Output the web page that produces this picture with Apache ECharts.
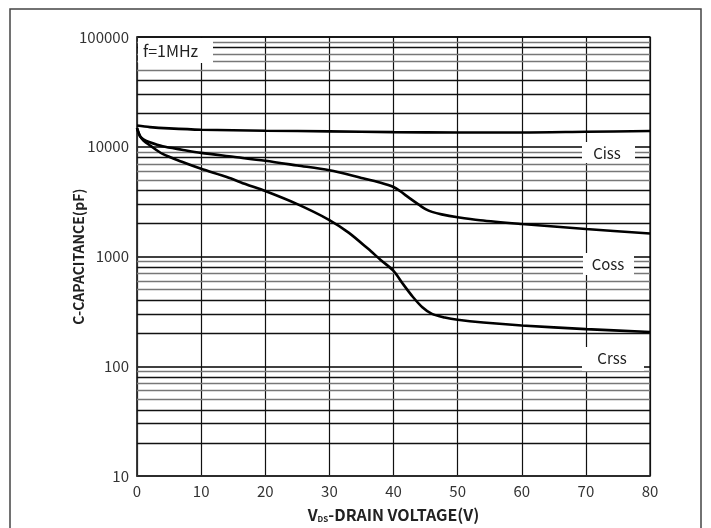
<!DOCTYPE html>
<html>
<head>
<meta charset="utf-8">
<script src="https://cdn.jsdelivr.net/npm/echarts@6/dist/echarts.min.js"></script>
<style>
  html, body { margin: 0; padding: 0; background: #fff; }
  #chart { width: 711px; height: 528px; }
</style>
</head>
<body>
<div id="chart"></div>
<script>
// capacitance vs drain voltage
var vCiss = [0, 2, 5, 10, 20, 30, 40, 50, 60, 70, 80];
var ciss = [15600, 15100, 14700, 14300, 14000, 13800, 13600, 13500, 13500, 13700, 13900];

var vCoss = [0, 0.5, 1, 2, 4, 7, 10, 15, 20, 25, 30, 35, 38, 40, 41, 42.5, 44, 45, 46, 47.5, 50, 53.5, 60, 70, 80];
var coss = [14800, 12400, 11700, 11000, 10100, 9400, 8800, 8100, 7450, 6750, 6100, 5200, 4700, 4300, 3950, 3400, 2950, 2700, 2550, 2420, 2280, 2140, 1980, 1780, 1620];

var vCrss = [0, 0.5, 1, 2, 4, 7, 10, 14, 17, 20, 25, 30, 33, 36, 38, 40, 41.5, 43, 44.5, 46, 48, 50, 54, 60, 70, 80];
var crss = [14800, 12400, 11400, 10300, 8600, 7300, 6300, 5300, 4550, 3950, 3000, 2150, 1650, 1180, 930, 740, 560, 430, 345, 300, 278, 265, 250, 235, 218, 205];

var decades = [10, 100, 1000, 10000];
var darkMinor = [2, 3, 4, 8];
var greyMinor = [5, 6, 7, 9];

var FONT = '"Noto Sans CJK SC", "Noto Sans", sans-serif';

function pairs(xs, ys) {
    var out = [];
    for (var i = 0; i < xs.length; i++) out.push([xs[i], ys[i]]);
    return out;
}

function minorLines(mults, color) {
    var out = [];
    decades.forEach(function (d) {
        mults.forEach(function (m) {
            out.push({ yAxis: d * m, lineStyle: { color: color } });
        });
    });
    return out;
}

function curve(name, xs, ys) {
    return {
        name: name,
        type: 'line',
        data: pairs(xs, ys),
        smooth: 0.3,
        symbol: 'none',
        z: 5,
        lineStyle: { color: '#000', width: 2.6 }
    };
}

var chart = echarts.init(document.getElementById('chart'));

chart.setOption({
    animation: false,
    backgroundColor: '#fff',
    grid: {
        left: 137, top: 37, right: 61, bottom: 51,
        show: true, borderColor: '#333', borderWidth: 1.5, backgroundColor: '#fff'
    },
    xAxis: {
        type: 'value', min: 0, max: 80, interval: 10,
        name: '{v|V}{s|DS}{t|-DRAIN VOLTAGE(V)}',
        nameLocation: 'middle', nameGap: 30, nameMoveOverlap: false,
        nameTextStyle: {
            rich: {
                v: { fontFamily: FONT, fontWeight: 'bold', fontSize: 16, color: '#222' },
                s: { fontFamily: FONT, fontWeight: 'bold', fontSize: 8, color: '#222', padding: [9, 0, 0, 0] },
                t: { fontFamily: FONT, fontWeight: 'bold', fontSize: 16, color: '#222' }
            }
        },
        axisLine: { lineStyle: { color: '#333', width: 1.5 } },
        axisTick: { show: false },
        axisLabel: { fontFamily: FONT, fontSize: 15, color: '#333', margin: 8 },
        splitLine: { show: true, lineStyle: { color: '#111', width: 1.2 } }
    },
    yAxis: {
        type: 'log', logBase: 10, min: 10, max: 100000,
        name: 'C-CAPACITANCE(pF)',
        nameLocation: 'middle', nameGap: 51, nameMoveOverlap: false,
        nameTextStyle: { fontFamily: FONT, fontWeight: 'bold', fontSize: 14, color: '#222' },
        axisLine: { lineStyle: { color: '#333', width: 1.5 } },
        axisTick: { show: false },
        axisLabel: {
            fontFamily: FONT, fontSize: 15, color: '#333', margin: 8,
            formatter: function (v) { return String(Math.round(v)); }
        },
        splitLine: { show: true, lineStyle: { color: '#000', width: 1.6 } }
    },
    series: [
        {
            type: 'line', data: [], silent: true,
            markLine: {
                silent: true, symbol: ['none', 'none'], label: { show: false },
                lineStyle: { type: 'solid', width: 1.4 },
                animation: false,
                data: minorLines(darkMinor, '#111').concat(minorLines(greyMinor, '#777'))
            }
        },
        curve('Ciss', vCiss, ciss),
        curve('Coss', vCoss, coss),
        curve('Crss', vCrss, crss)
    ],
    graphic: [
        { type: 'rect', shape: { x: 10, y: 9, width: 691, height: 540 },
          style: { fill: 'none', stroke: '#444', lineWidth: 1.5 }, z: 100 },
        { type: 'rect', shape: { x: 138, y: 38, width: 75, height: 25 }, style: { fill: '#fff' }, z: 100 },
        { type: 'text', x: 143, y: 51, style: { text: 'f=1MHz', fontFamily: FONT, fontSize: 16, fill: '#222', verticalAlign: 'middle' }, z: 101 },
        { type: 'rect', shape: { x: 582, y: 142, width: 53, height: 21 }, style: { fill: '#fff' }, z: 100 },
        { type: 'text', x: 607, y: 153, style: { text: 'Ciss', fontFamily: FONT, fontSize: 15, fill: '#222', align: 'center', verticalAlign: 'middle' }, z: 101 },
        { type: 'rect', shape: { x: 583, y: 253, width: 51, height: 22 }, style: { fill: '#fff' }, z: 100 },
        { type: 'text', x: 608, y: 264, style: { text: 'Coss', fontFamily: FONT, fontSize: 15, fill: '#222', align: 'center', verticalAlign: 'middle' }, z: 101 },
        { type: 'rect', shape: { x: 582, y: 347, width: 62, height: 24 }, style: { fill: '#fff' }, z: 100 },
        { type: 'text', x: 612, y: 358, style: { text: 'Crss', fontFamily: FONT, fontSize: 15, fill: '#222', align: 'center', verticalAlign: 'middle' }, z: 101 }
    ]
});
</script>
</body>
</html>
